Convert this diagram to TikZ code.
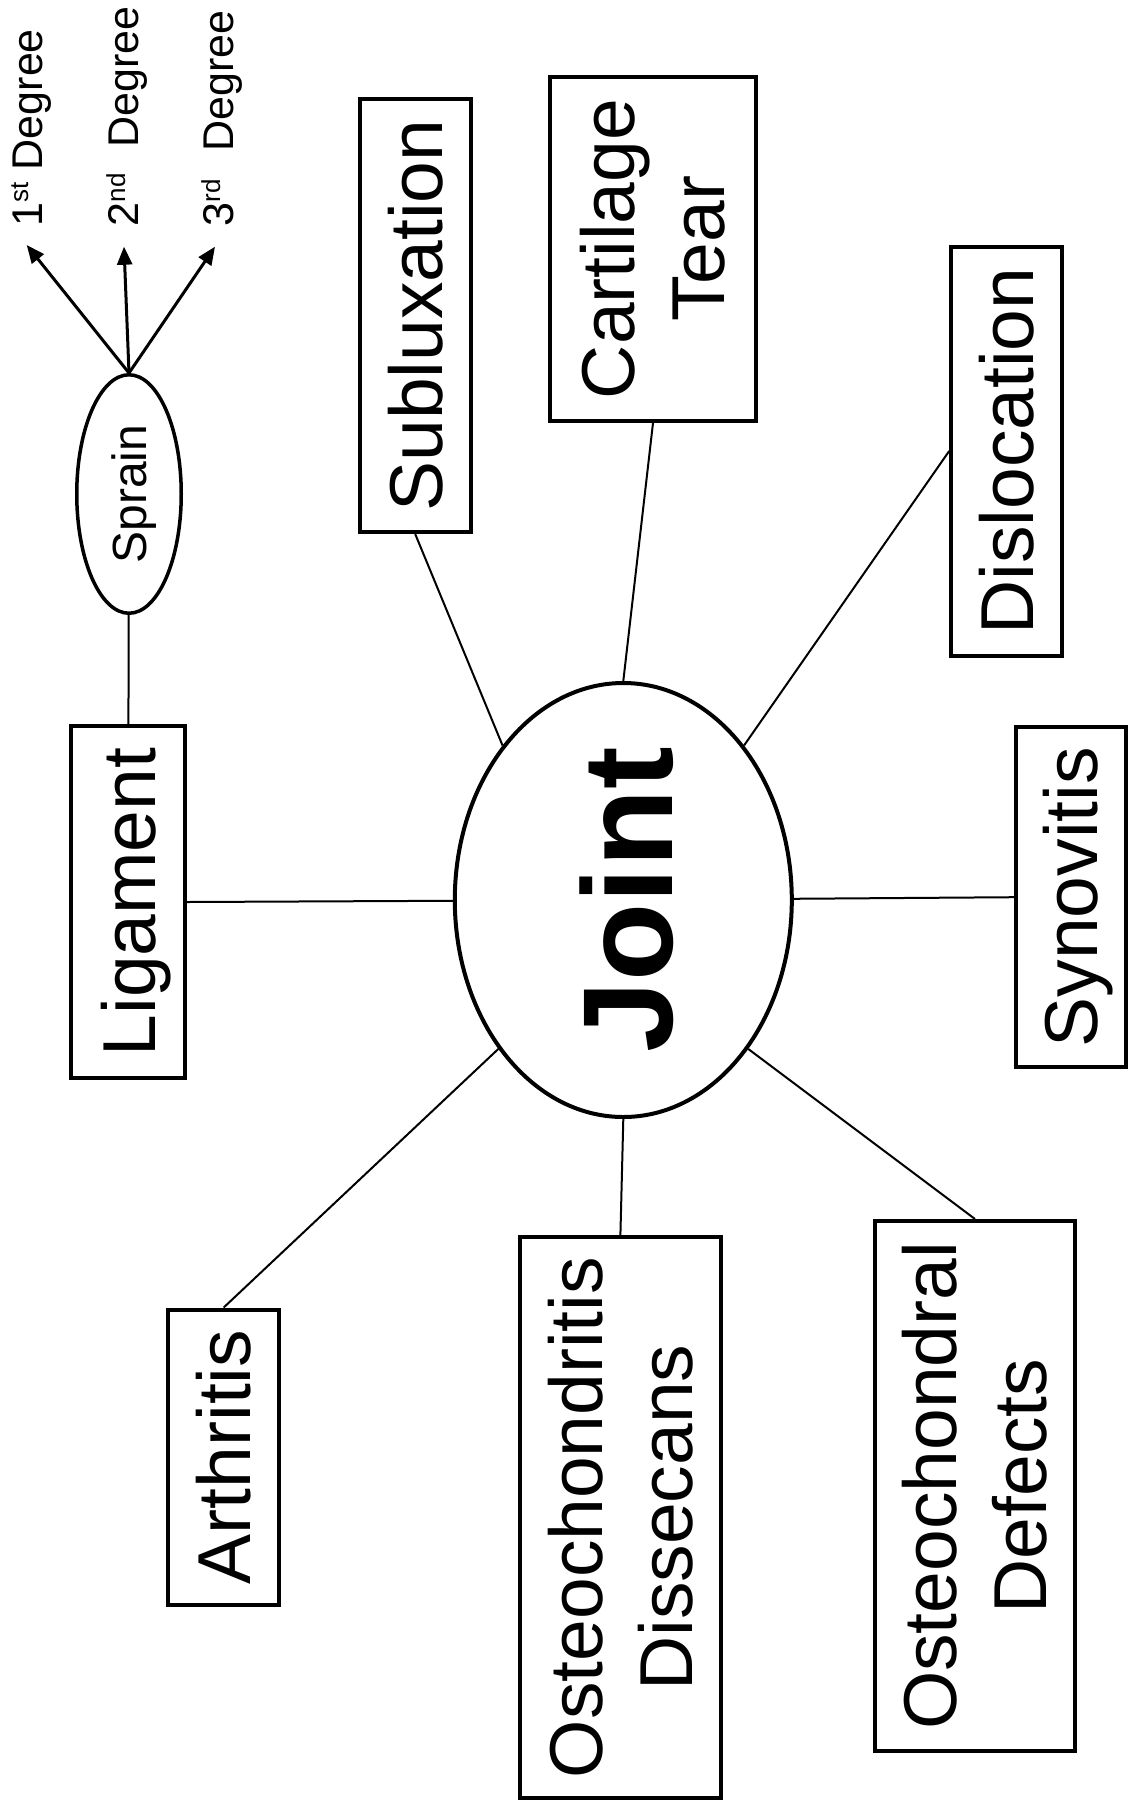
\documentclass[tikz,border=0pt]{standalone}
\usepackage{fontspec}
\setmainfont{Liberation Sans}
\usetikzlibrary{arrows.meta,shapes.geometric}
\begin{document}
\begin{tikzpicture}[x=1pt,y=-1pt,
  box/.style={draw,line width=4pt,fill=white,rotate=90,inner sep=0pt,
    font=\fontsize{75}{90}\selectfont,align=center},
  onebox/.style={box,text height=54pt,text depth=0pt},
  conn/.style={line width=2pt},
  arr/.style={line width=3pt,-{Triangle[length=18pt,width=15pt]}},
  deg/.style={rotate=90,anchor=base west,inner sep=0pt,
    font=\fontsize{43}{50}\selectfont},
  sup/.style={}]
\useasboundingbox (0,0) rectangle (1129,1808);
\fill[white] (0,0) rectangle (1129,1808);

% central ellipse
\node[ellipse,draw,line width=4pt,fill=white,rotate=90,minimum width=434pt,
  minimum height=337pt,inner sep=0pt,text height=97.6pt,text depth=0pt,
  font=\bfseries\fontsize{128}{140}\selectfont] (joint) at (623.3,900) {Joint};

% sprain ellipse
\node[ellipse,draw,line width=3.5pt,fill=white,rotate=90,minimum width=238.5pt,
  minimum height=104.5pt,inner sep=0pt,text height=34.4pt,text depth=0pt,
  font=\fontsize{48}{56}\selectfont] (sprain) at (129,494) {Sprain};

% boxes
\node[onebox,minimum width=352pt,minimum height=114pt] (lig) at (128,902) {Ligament};
\node[onebox,minimum width=433pt,minimum height=111pt] (sub) at (415.2,315.5) {Subluxation};
\node[box,minimum width=344pt,minimum height=206pt] (cart) at (653,249) {Cartilage\\Tear};
\node[onebox,minimum width=409pt,minimum height=111pt] (disl) at (1006.7,451) {Dislocation};
\node[onebox,minimum width=340pt,minimum height=110pt] (syn) at (1070.8,897.2) {Synovitis};
\node[box,minimum width=530pt,minimum height=200pt] (def) at (975,1486) {Osteochondral\\Defects};
\node[box,minimum width=561pt,minimum height=201pt] (ost) at (620.4,1517.5) {Osteochondritis\\Dissecans};
\node[onebox,minimum width=295pt,minimum height=111pt] (arth) at (223.7,1457) {Arthritis};

% degree labels
\node[deg] (d1) at (42,226.5) {1\raisebox{14pt}{\fontsize{26}{26}\selectfont st}\hspace{12pt}Degree};
\node[deg] (d2) at (138,226.5) {2\raisebox{13pt}{\fontsize{26}{26}\selectfont nd}\hspace{26pt}Degree};
\node[deg] (d3) at (233,226.5) {3\raisebox{13pt}{\fontsize{26}{26}\selectfont rd}\hspace{28pt}Degree};

\coordinate (t1) at (26.7,245);
\coordinate (t2) at (124,246.7);
\coordinate (t3) at (215,246.7);

% connectors
\draw[conn] (lig.south) -- (joint);
\draw[conn] (lig) -- (sprain);
\draw[conn] (sub.west) -- (joint.38.4);
\draw[conn] (cart.west) -- (joint.east);
\draw[conn] (disl.north) -- (joint.-38.6);
\draw[conn] (syn.north) -- (joint);
\draw[conn] (def.east) -- (joint.-140);
\draw[conn] (ost.east) -- (joint.west);
\draw[conn] (arth.east) -- (joint.140.2);

% arrows
\draw[arr] (sprain.east) -- (t1);
\draw[arr] (sprain.east) -- (t2);
\draw[arr] (sprain.east) -- (t3);
\end{tikzpicture}
\end{document}
